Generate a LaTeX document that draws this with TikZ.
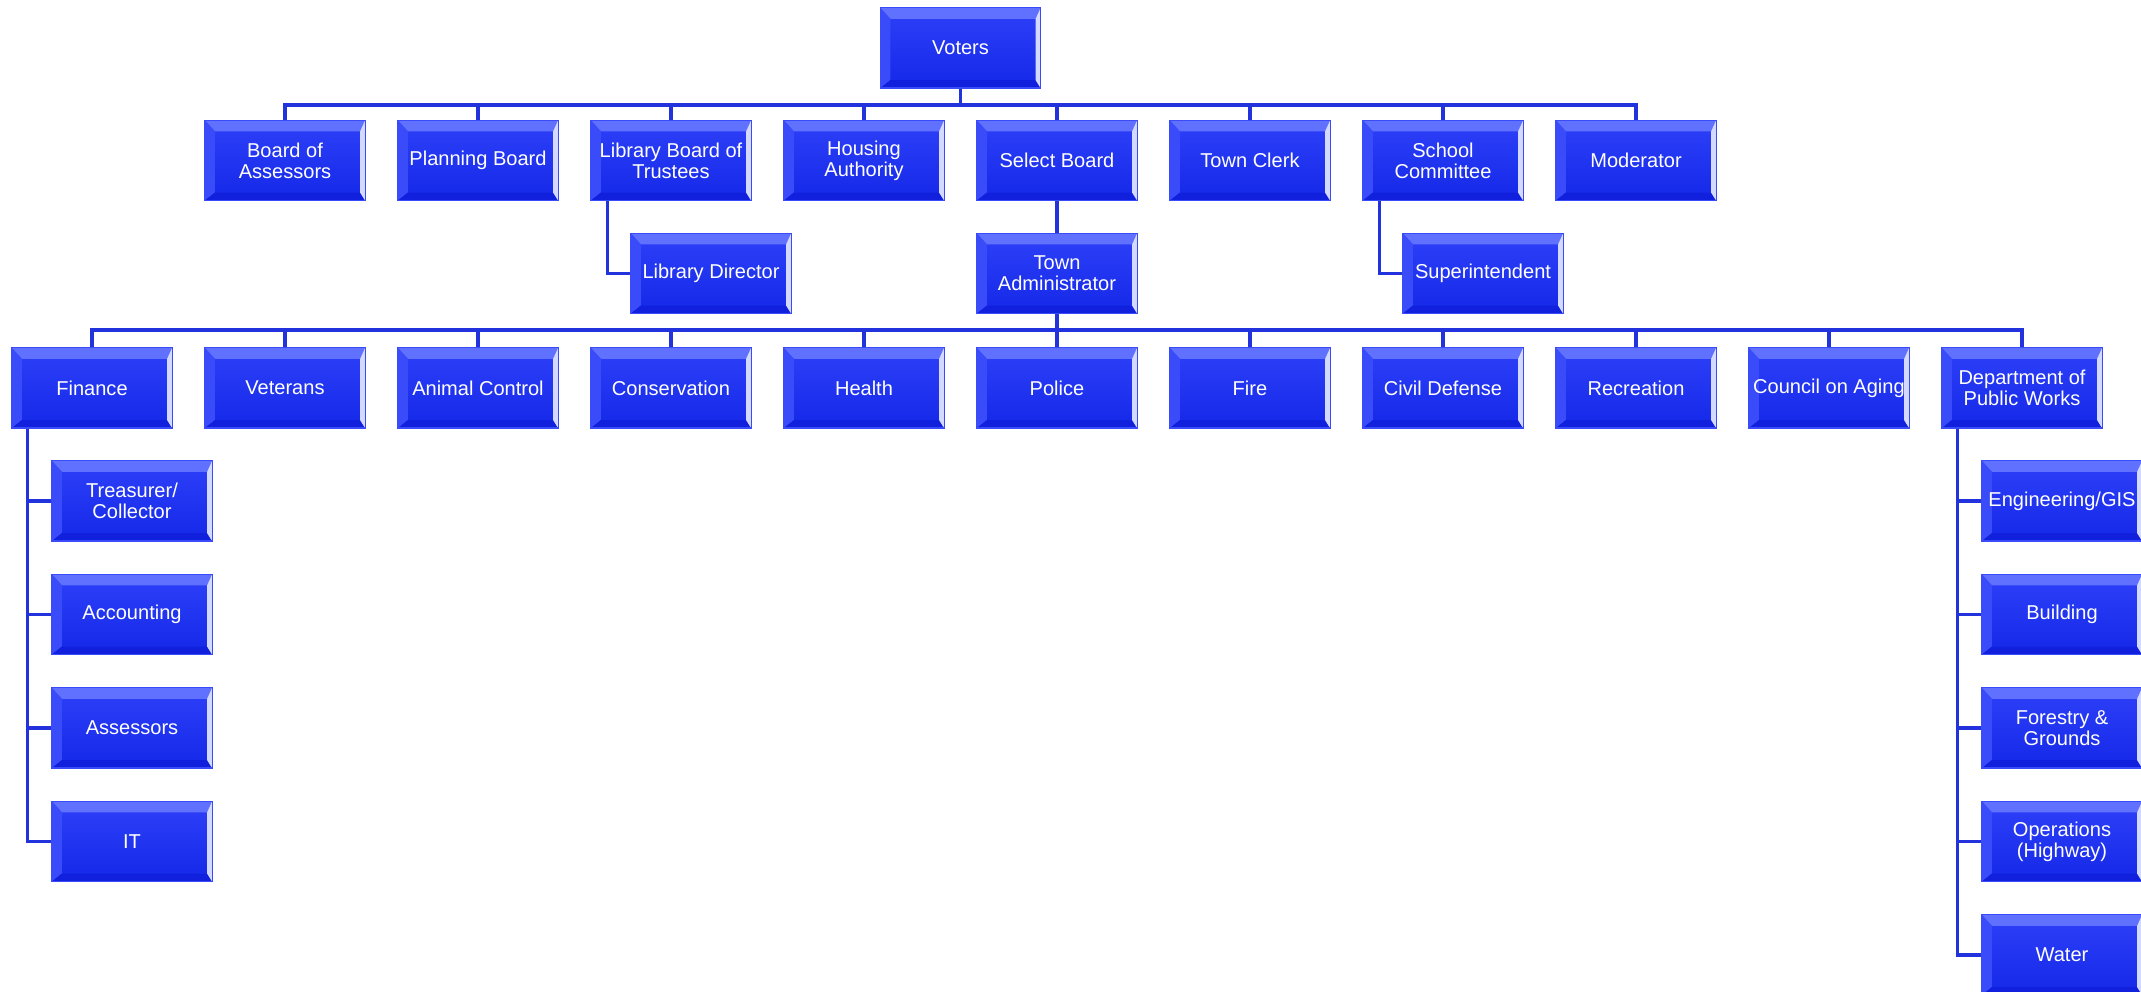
\documentclass[tikz,border=0pt]{standalone}
\usepackage{fontspec}
\setmainfont{Liberation Sans}
\usetikzlibrary{calc}

\definecolor{faceTop}{HTML}{2E40F8}
\definecolor{faceBot}{HTML}{1428E8}
\definecolor{bevTop}{HTML}{6070FF}
\definecolor{bevLeft}{HTML}{3A4CFA}
\definecolor{bevRight}{HTML}{D4DAFF}
\definecolor{bevBot}{HTML}{1020DC}
\definecolor{linkblue}{HTML}{2233DD}

\tikzset{
	unit/.style={rectangle, minimum width=1.6cm, minimum height=0.8cm, inner sep=0pt,
		top color=faceTop, bottom color=faceBot, draw=bevLeft, line width=0.3pt,
		text=white, align=center, font=\fontsize{5.7}{5.9}\selectfont,
		path picture={
			\coordinate (nw) at (path picture bounding box.north west);
			\coordinate (ne) at (path picture bounding box.north east);
			\coordinate (sw) at (path picture bounding box.south west);
			\coordinate (se) at (path picture bounding box.south east);
			\fill[bevTop] (nw) -- (ne) -- ($(ne)+(-0.05cm,-0.11cm)$) -- ($(nw)+(0.1cm,-0.11cm)$) -- cycle;
			\fill[bevLeft] (nw) -- ($(nw)+(0.1cm,-0.11cm)$) -- ($(sw)+(0.1cm,0.08cm)$) -- (sw) -- cycle;
			\fill[bevBot] (sw) -- ($(sw)+(0.1cm,0.08cm)$) -- ($(se)+(-0.05cm,0.08cm)$) -- (se) -- cycle;
			\fill[bevRight] (ne) -- ($(ne)+(-0.05cm,-0.11cm)$) -- ($(se)+(-0.05cm,0.08cm)$) -- (se) -- cycle;
		}},
	link/.style={draw=linkblue, line width=1pt}
}

\begin{document}
\begin{tikzpicture}[x=0.01cm, y=-0.01cm]
	\useasboundingbox (0,0) rectangle (2141,992);

	% top
	\node[unit] (voters) at (960.5, 48) {Voters};

	% elected boards
	\node[unit] (assessBoard) at (285, 160.5) {Board of\\Assessors};
	\node[unit] (planning) at (478, 160.5) {Planning Board};
	\node[unit] (libBoard) at (671, 160.5) {Library Board of\\Trustees};
	\node[unit] (housing) at (864, 160.5) {Housing\\Authority};
	\node[unit] (select) at (1057, 160.5) {Select Board};
	\node[unit] (clerk) at (1250, 160.5) {Town Clerk};
	\node[unit] (school) at (1443, 160.5) {School\\Committee};
	\node[unit] (moderator) at (1636, 160.5) {Moderator};

	\node[unit] (libDir) at (711, 273.5) {Library Director};
	\node[unit] (admin) at (1057, 273.5) {Town\\Administrator};
	\node[unit] (super) at (1483, 273.5) {Superintendent};

	% departments
	\node[unit] (finance) at (92, 388) {Finance};
	\node[unit] (veterans) at (285, 388) {Veterans};
	\node[unit] (animal) at (478, 388) {Animal Control};
	\node[unit] (conserv) at (671, 388) {Conservation};
	\node[unit] (health) at (864, 388) {Health};
	\node[unit] (police) at (1057, 388) {Police};
	\node[unit] (fire) at (1250, 388) {Fire};
	\node[unit] (civil) at (1443, 388) {Civil Defense};
	\node[unit] (recreation) at (1636, 388) {Recreation};
	\node[unit] (aging) at (1829, 388) {Council on Aging};
	\node[unit] (dpw) at (2022, 388) {Department of\\Public Works};

	% finance divisions
	\node[unit] (treasurer) at (132, 501) {Treasurer/\\Collector};
	\node[unit] (accounting) at (132, 614.5) {Accounting};
	\node[unit] (assessors) at (132, 728) {Assessors};
	\node[unit] (it) at (132, 841.5) {IT};

	% public works divisions
	\node[unit] (engineering) at (2062, 501) {Engineering/GIS};
	\node[unit] (building) at (2062, 614.5) {Building};
	\node[unit] (forestry) at (2062, 728) {Forestry \&\\Grounds};
	\node[unit] (operations) at (2062, 841.5) {Operations\\(Highway)};
	\node[unit] (water) at (2062, 955) {Water};

	\coordinate (busA) at (0, 105);
	\coordinate (busB) at (0, 330);

	\foreach \n in {assessBoard, planning, libBoard, housing, select, clerk, school, moderator}
		\draw[link] (voters.south) -- (voters.south |- busA) -| (\n.north);
	\draw[link] (select) -- (admin);
	\foreach \n in {finance, veterans, animal, conserv, health, police, fire, civil, recreation, aging, dpw}
		\draw[link] (admin.south) -- (admin.south |- busB) -| (\n.north);
	\draw[link] ([xshift=0.17cm]libBoard.south west) |- (libDir.west);
	\draw[link] ([xshift=0.17cm]school.south west) |- (super.west);
	\foreach \n in {treasurer, accounting, assessors, it}
		\draw[link] ([xshift=0.16cm]finance.south west) |- (\n.west);
	\foreach \n in {engineering, building, forestry, operations, water}
		\draw[link] ([xshift=0.16cm]dpw.south west) |- (\n.west);
\end{tikzpicture}
\end{document}
